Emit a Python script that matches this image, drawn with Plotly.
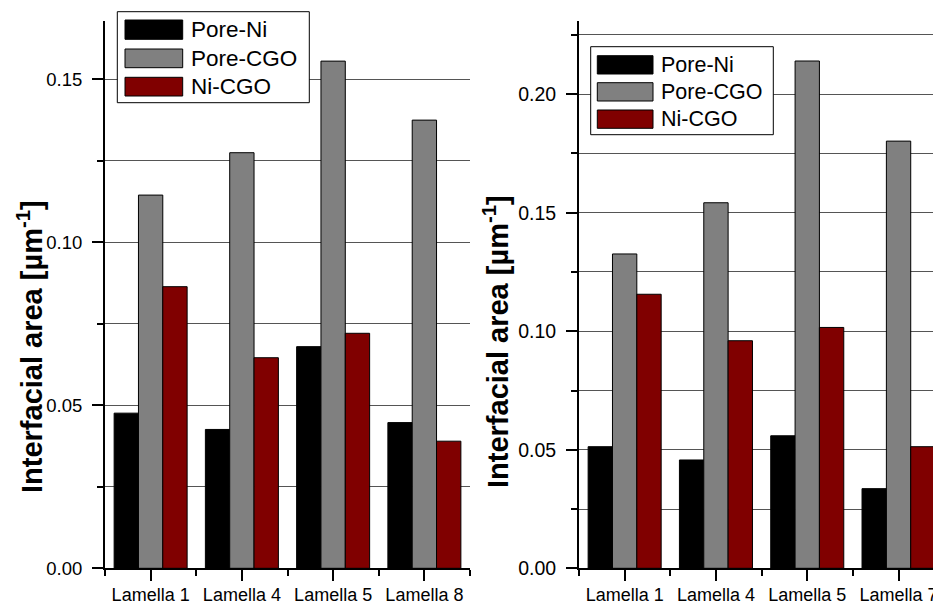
import plotly.graph_objects as go

# ---------------- data ----------------
series_names = ["Pore-Ni", "Pore-CGO", "Ni-CGO"]
series_colors = ["#000000", "#808080", "#800000"]

left_categories = ["Lamella 1", "Lamella 4", "Lamella 5", "Lamella 8"]
left_pore_ni = [0.0476, 0.0426, 0.0680, 0.0447]
left_pore_cgo = [0.1145, 0.1275, 0.1556, 0.1375]
left_ni_cgo = [0.0864, 0.0646, 0.0721, 0.0390]

right_categories = ["Lamella 1", "Lamella 4", "Lamella 5", "Lamella 7"]
right_pore_ni = [0.0513, 0.0457, 0.0559, 0.0336]
right_pore_cgo = [0.1326, 0.1542, 0.2140, 0.1802]
right_ni_cgo = [0.1156, 0.0960, 0.1016, 0.0513]

y_title = "Interfacial area [µm<sup>-1</sup>]"

# ---------------- layout helpers ----------------
W, H = 933, 605
FONT = "Liberation Sans, Arial, sans-serif"


def px(x):
    return x / W


def py(y):
    return 1 - y / H


fig = go.Figure()

left_vals = [left_pore_ni, left_pore_cgo, left_ni_cgo]
right_vals = [right_pore_ni, right_pore_cgo, right_ni_cgo]

for name, color, vals in zip(series_names, series_colors, left_vals):
    fig.add_trace(go.Bar(
        x=list(range(len(left_categories))), y=vals, name=name,
        marker=dict(color=color, line=dict(color="#000000", width=1)),
        xaxis="x", yaxis="y", showlegend=False, offsetgroup=name,
    ))
for name, color, vals in zip(series_names, series_colors, right_vals):
    fig.add_trace(go.Bar(
        x=list(range(len(right_categories))), y=vals, name=name,
        marker=dict(color=color, line=dict(color="#000000", width=1)),
        xaxis="x2", yaxis="y2", showlegend=False, offsetgroup=name,
    ))

grid_col = "#555555"


def yaxis_cfg(rng, fs, anchor):
    return dict(
        domain=[py(568.3), py(20.7)], anchor=anchor, range=rng,
        automargin=False,
        showline=True, linecolor="#000000", linewidth=2,
        ticks="outside", ticklen=11, tickwidth=1.5, tickcolor="#000000",
        dtick=0.05, tick0=0, tickformat=".2f",
        tickfont=dict(family=FONT, size=fs, color="#000000"),
        ticklabelstandoff=6,
        showgrid=True, gridcolor=grid_col, gridwidth=1,
        zeroline=False,
        minor=dict(dtick=0.025, tick0=0, ticks="outside", ticklen=6,
                   tickwidth=1.5, tickcolor="#000000",
                   showgrid=True, gridcolor=grid_col, gridwidth=1),
    )


def xaxis_cfg(x0, x1, rng, cats, fs, anchor):
    return dict(
        domain=[px(x0), px(x1)], range=rng, anchor=anchor,
        automargin=False,
        showline=True, linecolor="#000000", linewidth=2,
        tickmode="array", tickvals=list(range(len(cats))), ticktext=cats,
        ticks="outside", ticklen=11, tickwidth=1.5, tickcolor="#000000",
        tickfont=dict(family=FONT, size=fs, color="#000000"),
        ticklabelstandoff=-2, ticklabeloverflow="allow",
        showgrid=False, zeroline=False,
        minor=dict(tickmode="array",
                   tickvals=[i - 0.5 for i in range(len(cats) + 1)],
                   ticks="outside", ticklen=6, tickwidth=1.5,
                   tickcolor="#000000", showgrid=False),
    )


right_end = -0.5 + (933 - 579) / 91.3

fig.update_layout(
    width=W, height=H, margin=dict(l=0, r=0, t=0, b=0, autoexpand=False),
    paper_bgcolor="white", plot_bgcolor="white",
    barmode="group", bargap=0.2, bargroupgap=0,
    showlegend=False,
    xaxis=xaxis_cfg(105, 470, [-0.5, 3.5], left_categories, 18, "y"),
    yaxis=yaxis_cfg([0, 0.168], 18.5, "x"),
    xaxis2=xaxis_cfg(579, 933, [-0.5, right_end], right_categories, 18, "y2"),
    yaxis2=yaxis_cfg([0, 0.231], 19.5, "x2"),
)

shapes = []
annotations = []

# y axis titles
for cx, cy in [(30, 347), (496, 342)]:
    annotations.append(dict(
        text=y_title, textangle=-90, x=px(cx), y=py(cy),
        xref="paper", yref="paper", xanchor="center", yanchor="middle",
        showarrow=False,
        font=dict(family=FONT, size=29, color="#000000", weight="bold"),
    ))


# hand-drawn legends (wide swatches like the original)
def add_legend(box, sw_x, rows, text_x, fs):
    bx0, by0, bx1, by1 = box
    shapes.append(dict(type="rect", xref="paper", yref="paper",
                       x0=px(bx0), x1=px(bx1), y0=py(by1), y1=py(by0),
                       line=dict(color="#000000", width=1),
                       fillcolor="white", layer="above"))
    for (ry0, ry1), name, color in zip(rows, series_names, series_colors):
        shapes.append(dict(type="rect", xref="paper", yref="paper",
                           x0=px(sw_x[0]), x1=px(sw_x[1]),
                           y0=py(ry1), y1=py(ry0),
                           line=dict(color="#000000", width=1),
                           fillcolor=color, layer="above"))
        annotations.append(dict(
            text=name, x=px(text_x), y=py((ry0 + ry1) / 2),
            xref="paper", yref="paper", xanchor="left", yanchor="middle",
            showarrow=False,
            font=dict(family=FONT, size=fs, color="#000000"),
        ))


add_legend((117.3, 11.7, 309.3, 102.7), (125, 182.7),
           [(20, 39.3), (49, 67.7), (77.3, 96)], 188.5, 22.5)
add_legend((590.7, 46.7, 773.3, 134.7), (597.3, 653),
           [(55.7, 74), (82.7, 101), (110, 128.3)], 658.5, 21.5)

fig.update_layout(shapes=shapes, annotations=annotations)

fig.write_html("out.html")
